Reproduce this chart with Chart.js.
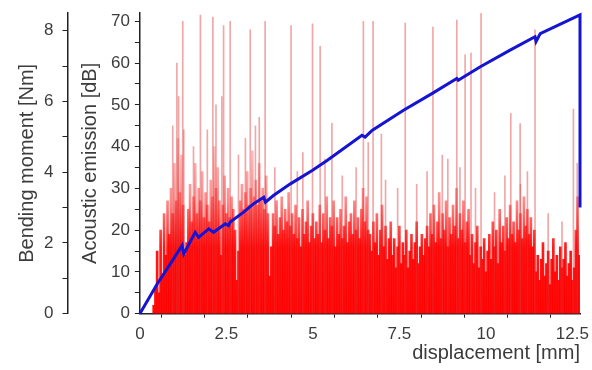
<!DOCTYPE html>
<html>
<head>
<meta charset="utf-8">
<script src="https://cdn.jsdelivr.net/npm/chart.js@4.4.1/dist/chart.umd.min.js"></script>
<style>
  html, body { margin: 0; padding: 0; background: #fff; }
  #wrap { width: 592px; height: 370px; }
</style>
</head>
<body>
<div id="wrap"><canvas id="aeChart" width="592" height="370"></canvas></div>
<script>
// Acoustic emission amplitude, sampled every 0.05 mm starting at 0.40 mm
const aeStart = 0.40;
const aeStep = 0.05;
const aeDense = [
  2, 6, 15, 5, 20, 9, 24, 14, 27, 19, 30, 24, 36, 27, 42, 29, 38, 26, 14, 17,
  25, 31, 22, 28, 36, 24, 30, 27, 34, 23, 29, 26, 22, 32, 28, 40, 30, 35, 27, 14,
  26, 33, 24, 30, 23, 28, 25, 20, 8, 15, 27, 31, 25, 29, 34, 26, 30, 39, 28, 32,
  26, 36, 27, 30, 25, 33, 24, 9, 16, 24, 21, 27, 19, 23, 28, 20, 25, 22, 29, 21,
  24, 19, 26, 18, 23, 16, 25, 19, 22, 27, 17, 21, 24, 18, 22, 19, 26, 17, 24, 20,
  28, 18, 23, 21, 27, 16, 23, 19, 25, 18, 21, 28, 17, 22, 24, 19, 27, 20, 23, 18,
  25, 30, 22, 28, 20, 19, 15, 22, 17, 24, 14, 20, 26, 16, 21, 13, 18, 22, 14, 18,
  11, 16, 21, 12, 17, 14, 20, 11, 15, 19, 13, 17, 22, 12, 16, 19, 14, 18, 21, 16,
  24, 19, 26, 17, 22, 29, 18, 24, 20, 27, 16, 23, 19, 26, 21, 30, 18, 24, 20, 27,
  17, 22, 25, 14, 19, 12, 17, 21, 11, 16, 13, 18, 10, 15, 19, 13, 22, 16, 20, 12,
  25, 17, 21, 15, 23, 18, 26, 19, 22, 17, 27, 20, 24, 18, 28, 21, 25, 19, 23, 16,
  20, 10, 14, 8, 13, 17, 9, 12, 15, 7, 13, 18, 10, 14, 8, 16, 11, 13, 17, 9,
  12, 15, 8, 11, 20, 28, 14
];

// Isolated high-amplitude hits
const spikeAt = [
  0.95, 1.07, 1.12, 1.24, 1.27, 1.55, 1.75, 1.95, 2.11, 2.20, 2.37, 2.42, 2.61, 2.85,
  3.05, 3.19, 3.34, 3.45, 3.62, 3.90, 4.37, 4.55, 4.71, 4.99, 5.21, 5.35, 5.55, 5.85,
  6.25, 6.46, 6.60, 6.74, 6.98, 7.10, 7.45, 7.67, 8.00, 8.30, 8.47, 8.74, 8.90, 9.16,
  9.25, 9.40, 9.57, 9.70, 9.86, 10.25, 10.55, 10.72, 10.99, 11.00, 11.20, 11.42, 11.80,
  12.20, 12.53, 12.64
];
const spikeDb = [
  45, 60, 52, 70, 44, 40, 71.5, 44, 71, 50, 52, 69, 70, 38,
  42, 68, 45, 47, 70, 35, 69, 34, 38.6, 69.4, 64, 37, 45.6, 33,
  35, 70, 41, 70, 43, 32, 30, 69.6, 31, 34, 68.6, 38, 37, 70.3,
  35, 62, 62.4, 30, 72, 29, 33, 48, 45.5, 31, 34, 68, 24,
  22, 49, 36
];

// Bending moment curve
const bmDisp = [
  0, 0.50, 0.88, 1.22, 1.27, 1.60, 1.70, 1.99, 2.13, 2.47, 2.56, 2.61, 3.00, 3.29,
  3.58, 3.63, 3.86, 4.35, 4.98, 5.41, 6.42, 6.51, 6.71, 7.62, 8.44, 9.16, 9.20,
  9.84, 10.70, 11.42, 11.45, 11.57, 12.72, 12.72
];
const bmMoment = [
  0, 0.84, 1.41, 1.93, 1.69, 2.30, 2.16, 2.40, 2.30, 2.54, 2.49, 2.59, 2.87, 3.11,
  3.29, 3.15, 3.34, 3.67, 4.05, 4.33, 5.04, 4.99, 5.18, 5.75, 6.22, 6.65, 6.60,
  6.98, 7.45, 7.83, 7.69, 7.92, 8.45, 3.0
];

const dbTicksLabelled = 10;
const nmTicksLabelled = 2;

const textColor = '#3c3c3c';
const axisColor = '#222';
const fontFamily = 'Liberation Sans, Arial, sans-serif';

// denser low-amplitude part is solid, the tall tails fade out
let aeGradient = null;
function aeFill(ctx) {
  const chart = ctx.chart;
  if (!chart.chartArea) return 'rgba(255,0,0,0.8)';
  if (aeGradient) return aeGradient;
  const y = chart.scales.y;
  const g = chart.ctx.createLinearGradient(0, y.getPixelForValue(0), 0, y.getPixelForValue(45));
  g.addColorStop(0, 'rgba(255,0,0,0.95)');
  g.addColorStop(0.35, 'rgba(255,0,0,0.9)');
  g.addColorStop(0.6, 'rgba(255,20,20,0.5)');
  g.addColorStop(1, 'rgba(255,70,70,0.25)');
  aeGradient = g;
  return g;
}

document.addEventListener('DOMContentLoaded', () => {
  const ctx = document.getElementById('aeChart');

  new Chart(ctx, {
    type: 'line',
    data: {
      datasets: [
        {
          type: 'line',
          label: 'Bending moment',
          data: bmDisp.map((d, i) => ({ x: d, y: bmMoment[i] })),
          yAxisID: 'y2',
          borderColor: '#1414d2',
          borderWidth: 3,
          pointRadius: 0,
          tension: 0,
          clip: 4,
          order: 0
        },
        {
          type: 'bar',
          label: 'AE hits',
          data: spikeAt.map((d, i) => ({ x: d, y: spikeDb[i] })),
          yAxisID: 'y',
          backgroundColor: 'rgba(222,45,45,0.42)',
          barThickness: 1,
          grouped: false,
          order: 1
        },
        {
          type: 'bar',
          label: 'AE amplitude',
          data: aeDense.map((v, i) => ({ x: aeStart + i * aeStep, y: v })),
          yAxisID: 'y',
          backgroundColor: aeFill,
          barThickness: 2,
          grouped: false,
          order: 2
        }
      ]
    },
    options: {
      responsive: false,
      animation: false,
      layout: { padding: { left: 0, top: 13, right: 12, bottom: 5 } },
      plugins: {
        legend: { display: false },
        tooltip: { enabled: false }
      },
      scales: {
        x: {
          type: 'linear',
          position: 'bottom',
          min: 0,
          max: 12.72,
          offset: false,
          grid: { drawOnChartArea: false, tickLength: 4, color: axisColor },
          border: { color: axisColor, width: 1.5 },
          ticks: {
            stepSize: 1.25,
            includeBounds: false,
            autoSkip: false,
            maxRotation: 0,
            padding: 0,
            color: textColor,
            // tall line box instead of padding so the last label does not squeeze the plot
            font: { family: fontFamily, size: 17, lineHeight: 1.9 },
            callback: v => (Math.abs(v / 2.5 - Math.round(v / 2.5)) < 1e-6 ? String(v) : '')
          },
          title: {
            display: true,
            text: 'displacement [mm]',
            align: 'end',
            color: textColor,
            padding: { top: -9, bottom: 0 },
            font: { family: fontFamily, size: 20 }
          }
        },
        y: {
          position: 'left',
          weight: 0,
          min: 0,
          max: 72,
          grid: { drawOnChartArea: false, tickLength: 5, color: axisColor },
          border: { color: axisColor, width: 1.5 },
          ticks: {
            stepSize: 5,
            includeBounds: false,
            autoSkip: false,
            padding: 5,
            color: textColor,
            // small lineHeight keeps the top label from padding the chart area
            font: { family: fontFamily, size: 17, lineHeight: 0.4 },
            callback: v => (v % dbTicksLabelled === 0 ? v : '')
          },
          title: {
            display: true,
            text: 'Acoustic emission [dB]',
            color: textColor,
            padding: { top: 11.5, bottom: 3 },
            font: { family: fontFamily, size: 20 }
          }
        },
        y2: {
          position: 'left',
          weight: 1,
          min: 0,
          max: 8.5,
          grid: { drawOnChartArea: false, tickLength: 5, color: axisColor },
          border: { color: axisColor, width: 1.5 },
          ticks: {
            stepSize: 1,
            includeBounds: false,
            autoSkip: false,
            padding: 9,
            color: textColor,
            font: { family: fontFamily, size: 17, lineHeight: 0.4 },
            callback: v => (v % nmTicksLabelled === 0 ? v : '')
          },
          title: {
            display: true,
            text: 'Bending moment [Nm]',
            color: textColor,
            padding: { top: 15, bottom: -4 },
            font: { family: fontFamily, size: 20 }
          }
        }
      }
    }
  });
});
</script>
</body>
</html>
